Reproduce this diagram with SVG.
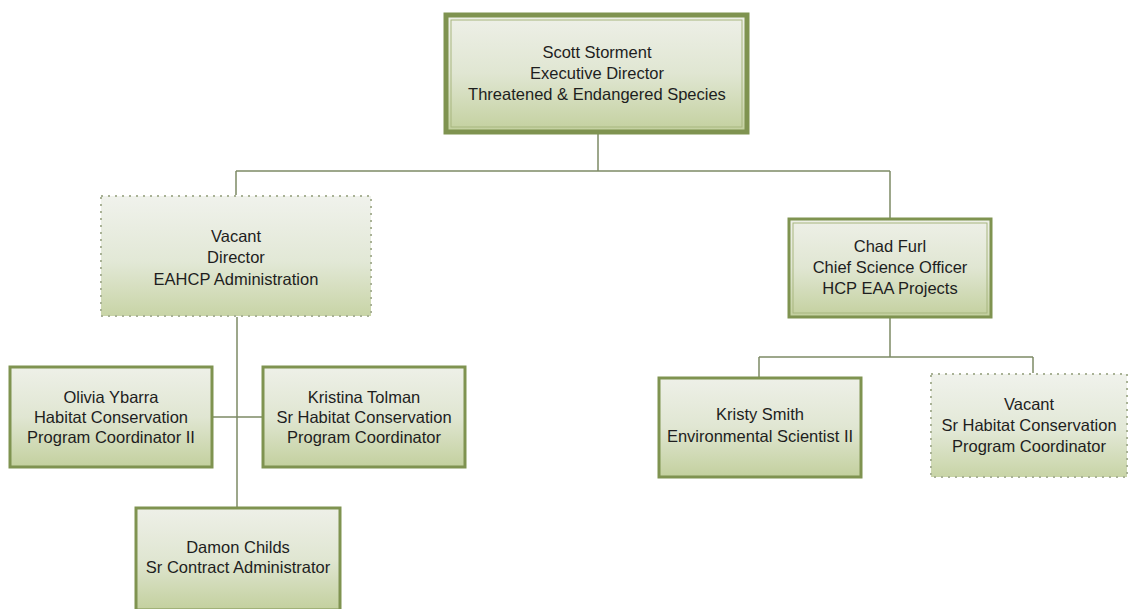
<svg xmlns="http://www.w3.org/2000/svg" width="1129" height="609" viewBox="0 0 1129 609">
<defs>
<linearGradient id="g" x1="0" y1="0" x2="0" y2="1">
<stop offset="0" stop-color="#eef0e8"/>
<stop offset="0.5" stop-color="#e0e6d2"/>
<stop offset="1" stop-color="#c3d09e"/>
</linearGradient>
<linearGradient id="gv" x1="0" y1="0" x2="0" y2="1">
<stop offset="0" stop-color="#f0f2ec"/>
<stop offset="0.55" stop-color="#e2e8d6"/>
<stop offset="1" stop-color="#c8d4a6"/>
</linearGradient>
</defs>
<style>
.box{fill:url(#g);stroke:#7f9350;stroke-width:3}
.inner{fill:none;stroke:#a7b67f;stroke-width:1}
.top{fill:url(#g);stroke:#7f9350;stroke-width:5}
.vac{fill:url(#gv);stroke:#a9b296;stroke-width:2;stroke-dasharray:2 5}
.conn{fill:none;stroke:#7d8a66;stroke-width:1.5}
text{font-family:"Liberation Sans Narrow","Liberation Sans",Arial,sans-serif;font-size:16.5px;fill:#1e1e1e;text-anchor:middle}
</style>
<rect width="1129" height="609" fill="#fff"/>
<g id="connectors">
<path class="conn" d="M598 134V171M236 171H890M236 171V195M890 171V218"/>
<path class="conn" d="M237 317V507M213 417H262"/>
<path class="conn" d="M890 318V357M759 357H1033M759 357V377M1033 357V373"/>
</g>
<g id="scott">
<rect class="top" x="446" y="15" width="301" height="117"/>
<rect class="inner" x="451" y="20" width="291" height="107"/>
<text x="597" y="58">Scott Storment</text>
<text x="597" y="79">Executive Director</text>
<text x="597" y="100">Threatened &amp; Endangered Species</text>
</g>
<g id="vacant-director">
<rect class="vac" x="101" y="196" width="270" height="120"/>
<text x="236" y="242">Vacant</text>
<text x="236" y="263">Director</text>
<text x="236" y="285">EAHCP Administration</text>
</g>
<g id="chad">
<rect class="box" x="789" y="219" width="202" height="98"/>
<rect class="inner" x="793" y="223" width="194" height="90"/>
<text x="890" y="252">Chad Furl</text>
<text x="890" y="273">Chief Science Officer</text>
<text x="890" y="294">HCP EAA Projects</text>
</g>
<g id="olivia">
<rect class="box" x="10" y="367" width="202" height="100"/>
<text x="111" y="403">Olivia Ybarra</text>
<text x="111" y="423">Habitat Conservation</text>
<text x="111" y="443">Program Coordinator II</text>
</g>
<g id="kristina">
<rect class="box" x="263" y="367" width="202" height="100"/>
<text x="364" y="403">Kristina Tolman</text>
<text x="364" y="423">Sr Habitat Conservation</text>
<text x="364" y="443">Program Coordinator</text>
</g>
<g id="damon">
<rect class="box" x="136" y="508" width="204" height="102"/>
<text x="238" y="553">Damon Childs</text>
<text x="238" y="573">Sr Contract Administrator</text>
</g>
<g id="kristy">
<rect class="box" x="659" y="378" width="202" height="99"/>
<text x="760" y="420">Kristy Smith</text>
<text x="760" y="442">Environmental Scientist II</text>
</g>
<g id="vacant-coordinator">
<rect class="vac" x="931" y="374" width="196" height="103"/>
<text x="1029" y="410">Vacant</text>
<text x="1029" y="431">Sr Habitat Conservation</text>
<text x="1029" y="452">Program Coordinator</text>
</g>
</svg>
